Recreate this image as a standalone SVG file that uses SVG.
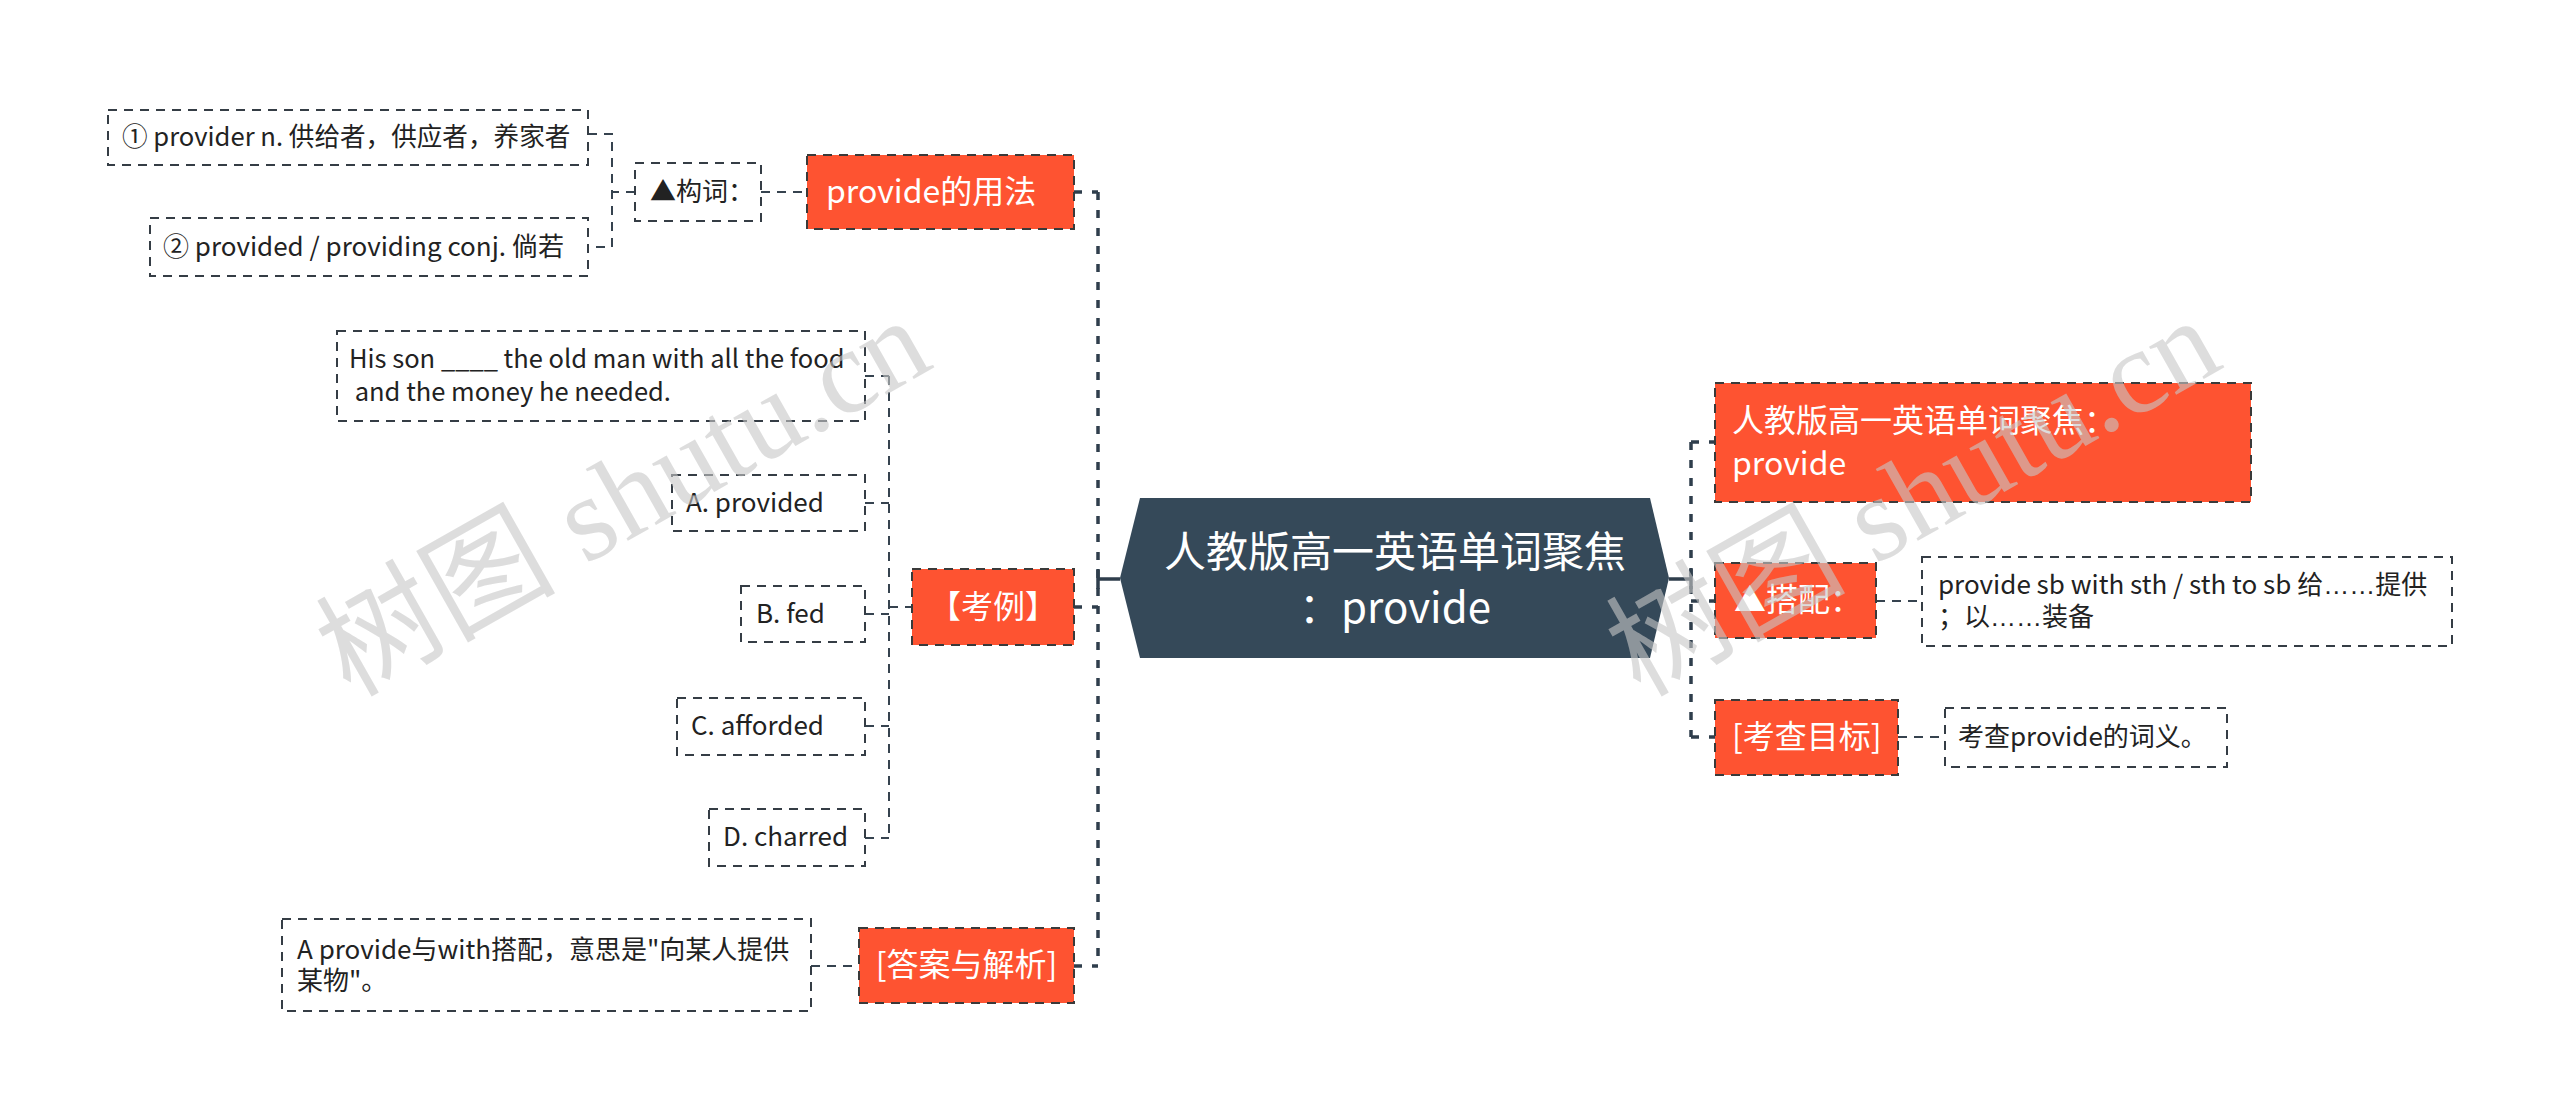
<svg xmlns="http://www.w3.org/2000/svg" width="2560" height="1119" viewBox="0 0 2560 1119">
<style>
text{font-family:"Noto Sans CJK SC","Liberation Sans",sans-serif}
.leaf rect{fill:#fff;stroke:#353d45;stroke-width:2;stroke-dasharray:9 7}
.leaf text{font-size:26px;fill:#222}
.main rect{fill:#fe5331;stroke:#3a3a3a;stroke-width:2;stroke-dasharray:9 7}
.main text{font-size:32px;fill:#fff}
.c1{fill:none;stroke:#2f3e4c;stroke-width:3.5;stroke-dasharray:8 10}
.c2{fill:none;stroke:#36434f;stroke-width:2;stroke-dasharray:9 7}
.solid{fill:none;stroke:#2f3e4c;stroke-width:3.5}
.ell{font-family:"Liberation Sans",sans-serif}
.wm{font-family:"Liberation Serif","Noto Sans CJK SC",serif;font-size:120px;fill:#c8c8c8;opacity:.6}
</style>
<rect width="2560" height="1119" fill="#fff"/>
<g id="connectors">
<path class="c1" d="M1098,192V966"/>
<path class="c1" d="M1074,192H1098M1074,607H1098M1074,966H1098"/>
<path class="solid" d="M1098,579H1120M1098,569V589"/>
<path class="c1" d="M1691,442V737"/>
<path class="c1" d="M1691,442H1715M1691,601H1715M1691,737H1715"/>
<path class="solid" d="M1669,579H1691M1691,569V589"/>
<path class="c2" d="M761,192H807"/>
<path class="c2" d="M635,192H612M588,134H612V247H588"/>
<path class="c2" d="M889,376V838M865,376H889M865,503H889M865,614H889M865,726H889M865,838H889M889,607H912"/>
<path class="c2" d="M811,966H859"/>
<path class="c2" d="M1876,601H1922M1898,737H1945"/>
</g>
<g id="center">
<polygon points="1120,578 1140,498 1650,498 1669,578 1650,658 1140,658" fill="#354959"/>
<text x="1395" y="567" text-anchor="middle" font-size="42" fill="#fff">人教版高一英语单词聚焦</text>
<text x="1395" y="623" text-anchor="middle" font-size="42" fill="#fff">：provide</text>
</g>
<g id="n-usage" class="main"><rect x="807" y="155" width="267" height="74"/><text x="826" y="203">provide的用法</text></g>
<g id="n-goujian" class="leaf"><rect x="635" y="163" width="126" height="58"/><text x="650" y="201">▲构词：</text></g>
<g id="n-provider" class="leaf"><rect x="108" y="110" width="480" height="55"/><text x="122" y="146" style="font-size:25.6px">① provider n. 供给者，供应者，养家者</text></g>
<g id="n-provided" class="leaf"><rect x="150" y="218" width="438" height="58"/><text x="163" y="256">② provided / providing conj. 倘若</text></g>
<g id="n-question" class="leaf"><rect x="337" y="331" width="528" height="90"/><text x="349" y="368" style="font-size:25.5px">His son ____ the old man with all the food</text><text x="349" y="401" style="font-size:25.5px" xml:space="preserve"> and the money he needed.</text></g>
<g id="n-a" class="leaf"><rect x="672" y="475" width="193" height="56"/><text x="686" y="512">A. provided</text></g>
<g id="n-b" class="leaf"><rect x="741" y="586" width="124" height="56"/><text x="756" y="623">B. fed</text></g>
<g id="n-c" class="leaf"><rect x="677" y="698" width="188" height="57"/><text x="691" y="735">C. afforded</text></g>
<g id="n-d" class="leaf"><rect x="709" y="809" width="156" height="57"/><text x="723" y="846">D. charred</text></g>
<g id="n-example" class="main"><rect x="912" y="569" width="162" height="76"/><text x="993" y="618" text-anchor="middle">【考例】</text></g>
<g id="n-answer" class="main"><rect x="859" y="928" width="215" height="75"/><text x="966.5" y="976" text-anchor="middle">[答案与解析]</text></g>
<g id="n-answer-text" class="leaf"><rect x="282" y="919" width="529" height="92"/><text x="297" y="959">A provide与with搭配，意思是"向某人提供</text><text x="297" y="990">某物"。</text></g>
<g id="n-title" class="main"><rect x="1715" y="383" width="536" height="119"/><text x="1732" y="432">人教版高一英语单词聚焦：</text><text x="1732" y="475">provide</text></g>
<g id="n-dapei" class="main"><rect x="1715" y="563" width="161" height="75"/><text x="1734" y="611">▲搭配：</text></g>
<g id="n-dapei-text" class="leaf"><rect x="1922" y="557" width="530" height="89"/><text x="1938" y="594">provide sb with sth / sth to sb 给<tspan class="ell">……</tspan>提供</text><text x="1938" y="626">；以<tspan class="ell">……</tspan>装备</text></g>
<g id="n-goal" class="main"><rect x="1715" y="700" width="183" height="75"/><text x="1732" y="748">[考查目标]</text></g>
<g id="n-goal-text" class="leaf"><rect x="1945" y="708" width="282" height="59"/><text x="1958" y="746">考查provide的词义。</text></g>
<g id="watermark">
<text class="wm" transform="translate(350,698) rotate(-29.5)">树图 shutu.cn</text>
<text class="wm" transform="translate(1640,698) rotate(-29.5)">树图 shutu.cn</text>
</g>
</svg>
